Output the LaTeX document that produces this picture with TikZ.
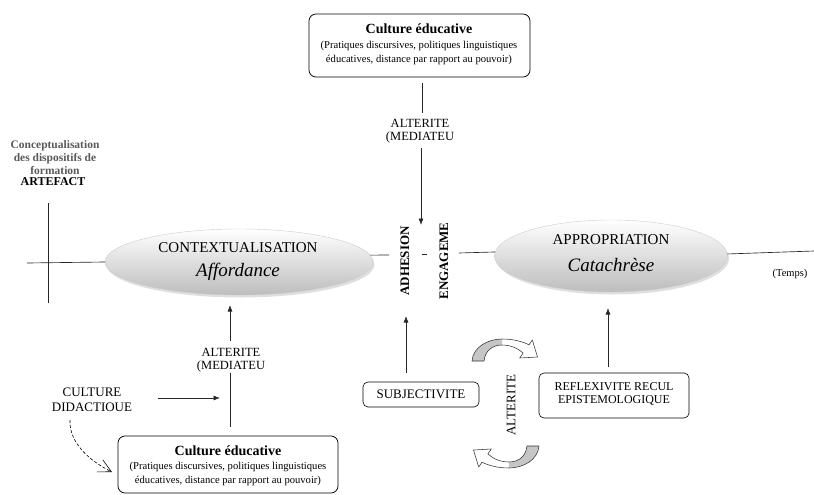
\documentclass[tikz,border=0pt]{standalone}
\usepackage{fontspec}
\setmainfont{Liberation Serif}
\usetikzlibrary{arrows.meta,shadows,shapes.geometric}

% outline of the curved block arrow (local units, y pointing down)
\def\bendoutline{(-34,8) .. controls (-33,-6) and (-18,-14) .. (-4,-14)
  .. controls (8,-14) and (18,-11) .. (22.9,-8.1) -- (26.3,-13) -- (31.5,4) -- (13.7,5) -- (17.1,0.1)
  .. controls (12,-5) and (4,-8) .. (-4,-8) .. controls (-14,-8) and (-21,-2) .. (-22,8) -- cycle}

\tikzset{
  bendarrow/.pic={
    \fill[white] \bendoutline;
    \begin{scope}
      \clip (-40,-16) rectangle (-4,12);
      \fill[gray!45] \bendoutline;
    \end{scope}
    \draw[black!80, line width=0.55pt, line join=round] \bendoutline;
  }
}

\begin{document}
\begin{tikzpicture}[x=1pt,y=-1pt,
  every node/.style={inner sep=0pt, outer sep=0pt},
  link/.style={line width=0.65pt, draw=black!85},
  tip/.style={-{Latex[length=6.5pt,width=5pt]}},
  culturebox/.style={draw, rounded corners=7pt, line width=0.75pt, fill=white},
  labelbox/.style={draw, rounded corners=5pt, line width=0.6pt},
  phase/.style={ellipse, draw=gray!40, line width=0.4pt, top color=white,
    bottom color=gray!52, drop shadow={shadow xshift=1.5pt, shadow yshift=-2.5pt, opacity=0.25}},
  caps/.style={font=\fontsize{13}{14.5}\selectfont},
  title/.style={font=\bfseries\fontsize{14}{15}\selectfont},
  sub/.style={font=\fontsize{10.6}{14}\selectfont, align=center},
  vertical/.style={rotate=90, font=\bfseries\fontsize{13}{15}\selectfont},
]
\useasboundingbox (0,0) rectangle (814,495);

% --- the two phases --------------------------------------------------
\node[phase, minimum width=268pt, minimum height=66pt] (ctx) at (239,262) {};
\node[phase, minimum width=233pt, minimum height=72pt] (app) at (611,256) {};
\node[font=\fontsize{15}{17}\selectfont] (ctxname) at (238,248) {CONTEXTUALISATION};
\node[font=\itshape\fontsize{19}{21}\selectfont] (ctxterm) at (238,272) {Affordance};
\node[font=\fontsize{15}{17}\selectfont] (appname) at (611,240) {APPROPRIATION};
\node[font=\itshape\fontsize{19}{21}\selectfont] (appterm) at (611,265) {Catachrèse};

% --- artefact axis on the left ---------------------------------------
\node[align=center, font=\bfseries\fontsize{11.5}{12.8}\selectfont, text=black!65] (concept) at (55,157.5)
  {Conceptualisation\\des dispositifs de\\formation};
\node[font=\bfseries\fontsize{12}{13}\selectfont] (artefact) at (53,182) {ARTEFACT};
\coordinate (crosstop) at (48,203);
\coordinate (crossbot) at (48,303);
\draw[link] (crosstop) -- (crossbot);
\coordinate (axisstart) at (27,263);
\draw[link] (axisstart) -- (ctx.west);

% --- time axis -------------------------------------------------------
\coordinate (adhleft) at (389,255);
\draw[link] (ctx.3) -- (adhleft);
\draw[link] (422,254) -- (427,254);
\coordinate (engright) at (459,253);
\draw[link] (engright) -- (app.178);
\coordinate (timeend) at (814,251);
\draw[link] (app.1) -- (timeend);
\node[font=\fontsize{10.5}{12}\selectfont] (temps) at (790,274) {(Temps)};

\node[vertical] (adh) at (405,261) {ADHESION};
\node[vertical] (eng) at (444,261) {ENGAGEME};

% --- top educational culture -----------------------------------------
\node[culturebox, minimum width=221pt, minimum height=63pt] (topbox) at (419.5,45.5) {};
\node[title] (toptitle) at (419,29) {Culture éducative};
\node[sub] (topsub) at (419,53) {(Pratiques discursives, politiques linguistiques\\éducatives, distance par rapport au pouvoir)};

\node[align=center, font=\fontsize{12.5}{13.5}\selectfont] (alt1) at (420,131) {ALTERITE\\(MEDIATEU};
\coordinate (a1top) at (422,83);
\coordinate (a1mid) at (422,113);
\coordinate (a1low) at (421,148);
\coordinate (adhtop) at (421,225);
\draw[link] (a1top) -- (a1mid);
\draw[link, tip] (a1low) -- (adhtop);

% --- bottom educational culture --------------------------------------
\node[culturebox, minimum width=220pt, minimum height=57pt] (botbox) at (228,464.5) {};
\node[title] (bottitle) at (228,451) {Culture éducative};
\node[sub] (botsub) at (228,474) {(Pratiques discursives, politiques linguistiques\\éducatives, distance par rapport au pouvoir)};

\node[align=center, font=\fontsize{12.5}{13.5}\selectfont] (alt2) at (231,360) {ALTERITE\\(MEDIATEU};
\coordinate (a2up) at (230,341);
\coordinate (ctxfoot) at (230,305);
\coordinate (a2low) at (230,373);
\coordinate (a2box) at (230,427);
\draw[link, tip] (a2up) -- (ctxfoot);
\draw[link] (a2low) -- (a2box);

\node[caps, align=center] (didac) at (92,400) {CULTURE\\DIDACTIOUE};
\coordinate (didacout) at (158,398);
\coordinate (didacin) at (220,398);
\draw[link, tip] (didacout) -- (didacin);
\coordinate (dashstart) at (70,420);
\coordinate (dashend) at (112,472);
\draw[line width=0.6pt, dash pattern=on 3pt off 2pt, -{Straight Barb[length=13pt,width=13.5pt]}]
  (dashstart) .. controls (69,442) and (88,460) .. (dashend);

% --- subjectivity and reflexivity ------------------------------------
\node[labelbox, caps, minimum width=116pt, minimum height=25pt] (subj) at (421,394.5) {SUBJECTIVITE};
\coordinate (subjup) at (406,373);
\coordinate (subjtip) at (406,316);
\draw[link, tip] (subjup) -- (subjtip);

\node[labelbox, minimum width=150pt, minimum height=45pt] (refl) at (614,395.5) {};
\node[align=center, font=\fontsize{12}{13}\selectfont] (refltext) at (614,393.5) {REFLEXIVITE RECUL\\EPISTEMOLOGIQUE};
\coordinate (reflup) at (608,367);
\coordinate (refltip) at (608,308);
\draw[link, tip] (reflup) -- (refltip);

\node[rotate=90, font=\fontsize{13}{14}\selectfont] (alt3) at (511,405) {ALTERITE};
\pic at (506,353) {bendarrow};
\pic[rotate=180] at (505,454) {bendarrow};
\end{tikzpicture}
\end{document}
